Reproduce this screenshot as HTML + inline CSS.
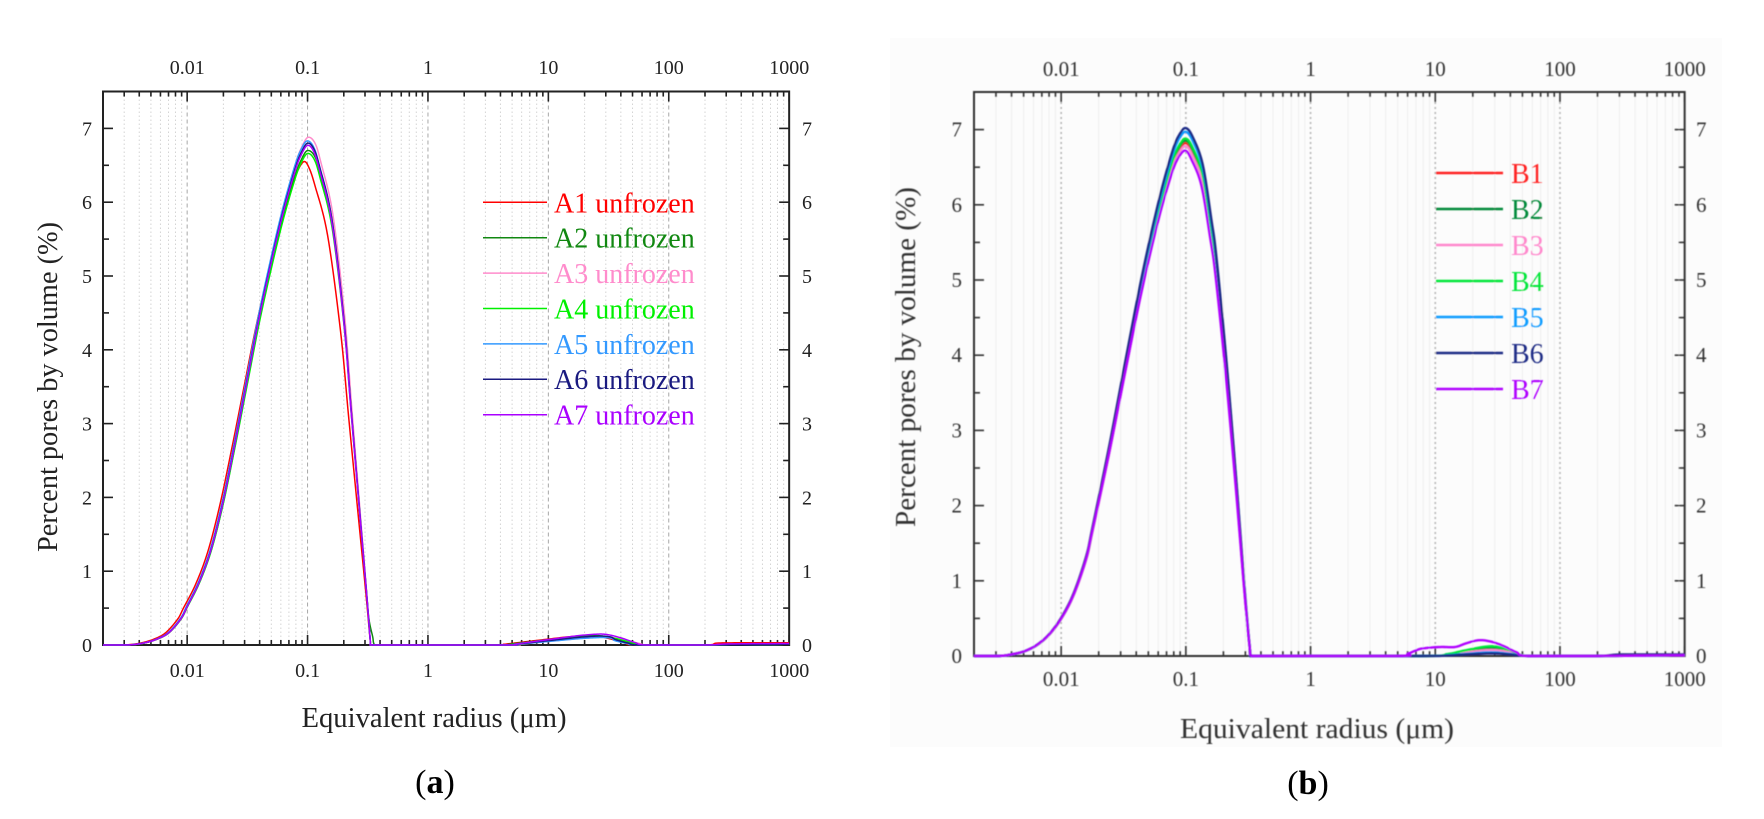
<!DOCTYPE html>
<html>
<head>
<meta charset="utf-8">
<style>
html,body{margin:0;padding:0;background:#fff;}
svg{display:block;}
text{font-family:"Liberation Serif","Times New Roman",serif;}
</style>
</head>
<body>
<svg id="s" xmlns="http://www.w3.org/2000/svg" width="1764" height="819" viewBox="0 0 1764 819">
<defs>
<filter id="bl" x="-5%" y="-5%" width="110%" height="110%"><feGaussianBlur stdDeviation="0.55"/></filter>
<clipPath id="ca"><rect x="103" y="85" width="687" height="565"/></clipPath>
<clipPath id="cb"><rect x="974" y="85" width="711" height="576"/></clipPath>
</defs>
<rect x="0" y="0" width="1764" height="819" fill="#fff"/>
<rect x="890" y="38" width="832" height="709" fill="#fcfcfc"/>
<g id="ga"></g>
<g id="gbw" filter="url(#bl)"><g id="gb"></g>
<g fill="#333" font-size="21">
<text x="1061.2" y="76" text-anchor="middle">0.01</text>
<text x="1185.9" y="76" text-anchor="middle">0.1</text>
<text x="1310.6" y="76" text-anchor="middle">1</text>
<text x="1435.3" y="76" text-anchor="middle">10</text>
<text x="1560" y="76" text-anchor="middle">100</text>
<text x="1684.7" y="76" text-anchor="middle">1000</text>
<text x="1061.2" y="686" text-anchor="middle">0.01</text>
<text x="1185.9" y="686" text-anchor="middle">0.1</text>
<text x="1310.6" y="686" text-anchor="middle">1</text>
<text x="1435.3" y="686" text-anchor="middle">10</text>
<text x="1560" y="686" text-anchor="middle">100</text>
<text x="1684.7" y="686" text-anchor="middle">1000</text>
<text x="962" y="663" text-anchor="end">0</text>
<text x="962" y="587.8" text-anchor="end">1</text>
<text x="962" y="512.6" text-anchor="end">2</text>
<text x="962" y="437.4" text-anchor="end">3</text>
<text x="962" y="362.2" text-anchor="end">4</text>
<text x="962" y="287" text-anchor="end">5</text>
<text x="962" y="211.8" text-anchor="end">6</text>
<text x="962" y="136.6" text-anchor="end">7</text>
<text x="1696" y="663">0</text>
<text x="1696" y="587.8">1</text>
<text x="1696" y="512.6">2</text>
<text x="1696" y="437.4">3</text>
<text x="1696" y="362.2">4</text>
<text x="1696" y="287">5</text>
<text x="1696" y="211.8">6</text>
<text x="1696" y="136.6">7</text>
</g>
<text x="1317" y="738" font-size="29" fill="#333" text-anchor="middle" textLength="274" lengthAdjust="spacingAndGlyphs">Equivalent radius (μm)</text>
<text transform="translate(915,357) rotate(-90)" font-size="29" fill="#333" text-anchor="middle" textLength="340" lengthAdjust="spacingAndGlyphs">Percent pores by volume (%)</text>
<g font-size="28">
<text x="1511" y="183" fill="#ff2020">B1</text>
<text x="1511" y="219" fill="#008a3a">B2</text>
<text x="1511" y="255" fill="#ff88cc">B3</text>
<text x="1511" y="291" fill="#00e63a">B4</text>
<text x="1511" y="327" fill="#0a9cff">B5</text>
<text x="1511" y="363" fill="#1e2c86">B6</text>
<text x="1511" y="399" fill="#b000ff">B7</text>
</g>
</g>
<g fill="#222" font-size="20">
<text x="187.2" y="74" text-anchor="middle">0.01</text>
<text x="307.6" y="74" text-anchor="middle">0.1</text>
<text x="428" y="74" text-anchor="middle">1</text>
<text x="548.4" y="74" text-anchor="middle">10</text>
<text x="668.8" y="74" text-anchor="middle">100</text>
<text x="789.2" y="74" text-anchor="middle">1000</text>
<text x="187.2" y="677" text-anchor="middle">0.01</text>
<text x="307.6" y="677" text-anchor="middle">0.1</text>
<text x="428" y="677" text-anchor="middle">1</text>
<text x="548.4" y="677" text-anchor="middle">10</text>
<text x="668.8" y="677" text-anchor="middle">100</text>
<text x="789.2" y="677" text-anchor="middle">1000</text>
<text x="92" y="652" text-anchor="end">0</text>
<text x="92" y="578.2" text-anchor="end">1</text>
<text x="92" y="504.4" text-anchor="end">2</text>
<text x="92" y="430.6" text-anchor="end">3</text>
<text x="92" y="356.8" text-anchor="end">4</text>
<text x="92" y="283" text-anchor="end">5</text>
<text x="92" y="209.2" text-anchor="end">6</text>
<text x="92" y="135.4" text-anchor="end">7</text>
<text x="802" y="652">0</text>
<text x="802" y="578.2">1</text>
<text x="802" y="504.4">2</text>
<text x="802" y="430.6">3</text>
<text x="802" y="356.8">4</text>
<text x="802" y="283">5</text>
<text x="802" y="209.2">6</text>
<text x="802" y="135.4">7</text>
</g>
<text x="434" y="727" font-size="28" fill="#222" text-anchor="middle" textLength="265" lengthAdjust="spacingAndGlyphs">Equivalent radius (μm)</text>
<text transform="translate(57,387) rotate(-90)" font-size="28" fill="#222" text-anchor="middle" textLength="330" lengthAdjust="spacingAndGlyphs">Percent pores by volume (%)</text>
<g font-size="28">
<text x="554" y="212.3" fill="#ff0000">A1 unfrozen</text>
<text x="554" y="247.7" fill="#118811">A2 unfrozen</text>
<text x="554" y="283" fill="#ff8ccc">A3 unfrozen</text>
<text x="554" y="318.4" fill="#00f000">A4 unfrozen</text>
<text x="554" y="353.8" fill="#3399ff">A5 unfrozen</text>
<text x="554" y="389.2" fill="#1a1a80">A6 unfrozen</text>
<text x="554" y="424.6" fill="#aa00ff">A7 unfrozen</text>
</g>
<text x="435" y="793" font-size="34" fill="#000" text-anchor="middle">(<tspan font-weight="bold">a</tspan>)</text>
<text x="1308" y="794" font-size="34" fill="#000" text-anchor="middle">(<tspan font-weight="bold">b</tspan>)</text>
</svg>
<script>
(function(){
var NS='http://www.w3.org/2000/svg';
var L0=Math.log10(0.002), LSPAN=3-L0;
function el(p,tag,a){var e=document.createElementNS(NS,tag);for(var k in a)e.setAttribute(k,a[k]);p.appendChild(e);return e;}
function crPath(c,pts){
  var P=pts.map(function(q){return [c.x0+(q[0]-L0)*c.dec, c.y0-q[1]*c.unit];});
  var out=[];
  for(var i=0;i<P.length-1;i++){
    var p0=P[i>0?i-1:i],p1=P[i],p2=P[i+1],p3=P[i+2<P.length?i+2:i+1];
    var n=10;
    for(var j=0;j<n;j++){
      var t=j/n,t2=t*t,t3=t2*t;
      var x=0.5*((2*p1[0])+(-p0[0]+p2[0])*t+(2*p0[0]-5*p1[0]+4*p2[0]-p3[0])*t2+(-p0[0]+3*p1[0]-3*p2[0]+p3[0])*t3);
      var y=0.5*((2*p1[1])+(-p0[1]+p2[1])*t+(2*p0[1]-5*p1[1]+4*p2[1]-p3[1])*t2+(-p0[1]+3*p1[1]-3*p2[1]+p3[1])*t3);
      if(y>c.y0)y=c.y0;
      out.push(x.toFixed(2)+','+y.toFixed(2));
    }
  }
  var last=P[P.length-1];out.push(last[0].toFixed(2)+','+Math.min(last[1],c.y0).toFixed(2));
  return 'M'+out.join('L');
}
function frame(c,g){
  var right=c.x0+LSPAN*c.dec, top=c.y0-7.5*c.unit;
  c.right=right;c.top=top;
  for(var n=-3;n<=2;n++)for(var k=1;k<=9;k++){
    var lr=Math.log10(k*Math.pow(10,n));
    if(lr<=L0+1e-6||lr>=3-1e-6)continue;
    var x=c.x0+(lr-L0)*c.dec;
    if(k==1){el(g,'line',{x1:x,y1:top,x2:x,y2:c.y0,stroke:c.mg,'stroke-width':c.mgw,'stroke-dasharray':c.mgd});}
    else{var a={x1:x,y1:top,x2:x,y2:c.y0,stroke:c.ng,'stroke-width':1};if(c.ngd)a['stroke-dasharray']=c.ngd;el(g,'line',a);}
  }
  el(g,'rect',{x:c.x0,y:top,width:right-c.x0,height:c.y0-top,fill:'none',stroke:c.ax,'stroke-width':2});
  for(var n=-3;n<=3;n++)for(var k=1;k<=9;k++){
    var lr=Math.log10(k*Math.pow(10,n));
    if(lr<=L0+1e-6||lr>3+1e-6)continue;
    var x=c.x0+(lr-L0)*c.dec, len=(k==1)?c.tM:c.tm;
    el(g,'line',{x1:x,y1:c.y0,x2:x,y2:c.y0-len,stroke:c.ax,'stroke-width':1.6});
    el(g,'line',{x1:x,y1:top,x2:x,y2:top+len,stroke:c.ax,'stroke-width':1.6});
  }
  for(var v=0.5;v<7.5;v+=0.5){
    var y=c.y0-v*c.unit, len=(Math.abs(v-Math.round(v))<1e-6)?c.tM:c.tmy;
    el(g,'line',{x1:c.x0,y1:y,x2:c.x0+len,y2:y,stroke:c.ax,'stroke-width':1.6});
    el(g,'line',{x1:right,y1:y,x2:right-len,y2:y,stroke:c.ax,'stroke-width':1.6});
  }
}
// ---------- Chart A ----------
var CA={x0:103,dec:120.4,y0:645,unit:73.8,ax:'#222',mg:'#a8a8a8',mgw:1,mgd:'4,3',ng:'#d4d4d4',ngd:'1.5,2.5',tM:10,tm:5,tmy:6};
var ga=document.getElementById('ga');
frame(CA,ga);
var BA=[[-2.699,0],[-2.55,0],[-2.45,0.005],[-2.35,0.03],[-2.25,0.08],[-2.15,0.17],[-2.05,0.36],[-2.0,0.52],[-1.9,0.85],[-1.8,1.3],[-1.7,1.95],[-1.6,2.75],[-1.5,3.6],[-1.4,4.45],[-1.3,5.2],[-1.2,5.88],[-1.1,6.45],[-1.05,6.66],[-1.0,6.78],[-0.95,6.7],[-0.9,6.44],[-0.8,5.75],[-0.7,4.4],[-0.64,3.2],[-0.57,1.85],[-0.51,0.7],[-0.48,0.08],[-0.47,0]];
var BBa=[[0.62,0],[0.7,0.01],[0.8,0.03],[0.9,0.05],[1.0,0.07],[1.1,0.09],[1.2,0.11],[1.3,0.125],[1.42,0.135],[1.5,0.12],[1.6,0.08],[1.7,0.03],[1.8,0]];
function mainA(p,sL,sR,greenTail){
  var src=BA.slice();
  if(greenTail){src=src.slice(0,src.length-2);src.push([-0.49,0.35],[-0.46,0.12],[-0.44,0]);}
  return src.map(function(q){var l=q[0],v=q[1];var lr=l+(l<=-1?sL:sR*(v/6.78));return [lr,v*p/6.78];});
}
function bumpA(s,sh,endSh){return BBa.map(function(q,i){var e=(i>=BBa.length-3&&endSh)?endSh:0;return [q[0]+sh+e,q[1]*s];});}
var SA=[
 {c:'#ff0000',pts:mainA(6.55,-0.03,-0.04).concat([[-0.35,0]],bumpA(0.95,-0.07),[[2.3,0],[2.4,0.025],[2.6,0.03],[3,0.03]])},
 {c:'#118811',pts:mainA(6.70,0,0.01,true).concat([[-0.35,0]],bumpA(0.95,-0.03),[[2.3,0],[3,0.01]])},
 {c:'#ff8ccc',pts:mainA(6.88,0.005,0.012).concat([[-0.35,0]],bumpA(0.8,0.05),[[2.3,0],[3,0.01]])},
 {c:'#00f000',pts:mainA(6.66,0,0.005).concat([[-0.35,0]],bumpA(0.9,0),[[2.3,0],[3,0.01]])},
 {c:'#3399ff',pts:mainA(6.83,-0.005,0).concat([[-0.35,0]],bumpA(0.75,0.03,-0.08),[[2.3,0],[3,0.01]])},
 {c:'#1a1a80',pts:mainA(6.80,0,0.003).concat([[-0.35,0]],bumpA(0.9,0.02,-0.06),[[2.3,0],[3,0.01]])},
 {c:'#aa00ff',pts:mainA(6.77,0,0).concat([[-0.35,0]],bumpA(1.1,0.02),[[2.3,0],[2.5,0.015],[3,0.02]])}
];
var gca=el(ga,'g',{'clip-path':'url(#ca)'});
SA.forEach(function(s){el(gca,'path',{d:crPath(CA,s.pts),fill:'none',stroke:s.c,'stroke-width':1.5,'stroke-linejoin':'round'});});
SA.forEach(function(s,i){var y=202.3+35.4*i;el(ga,'line',{x1:483,y1:y,x2:547,y2:y,stroke:s.c,'stroke-width':1.5});});

// ---------- Chart B ----------
var CB={x0:974,dec:124.7,y0:656,unit:75.2,ax:'#333',mg:'#b4b4b4',mgw:1.6,mgd:'2,3',ng:'#eeeeee',ngd:null,tM:10,tm:5,tmy:6};
var gb=document.getElementById('gb');
frame(CB,gb);
var BM=[[-2.699,0],[-2.5,0],[-2.4,0.02],[-2.3,0.06],[-2.2,0.14],[-2.1,0.28],[-2.0,0.5],[-1.9,0.82],[-1.8,1.3],[-1.749,1.68],[-1.615,2.74],[-1.481,3.89],[-1.348,5.0],[-1.214,5.97],[-1.107,6.6],[-1.05,6.82],[-1.0,6.9],[-0.95,6.78],[-0.87,6.42],[-0.8,5.7],[-0.76,5.22],[-0.68,3.89],[-0.6,2.34],[-0.53,0.88],[-0.49,0.15],[-0.47,0]];
function mainB(p,sL,sR){return BM.map(function(q){var l=q[0],v=q[1];return [l+(l<=-1?sL:sR*(v/6.9)),v*p/6.9];});}
function hump(h,c0){return [[0.9,0],[1.1,0.2*h],[1.25,0.6*h],[c0||1.45,h],[1.6,0.6*h],[1.75,0]];}
var SB=[
 {c:'#ff2020',pts:mainB(6.82,0,0.003).concat([[-0.35,0]],hump(0.11),[[2.3,0],[3,0.01]])},
 {c:'#008a3a',pts:mainB(6.85,0,0.003).concat([[-0.35,0]],hump(0.10),[[2.3,0],[3,0.01]])},
 {c:'#ff88cc',pts:mainB(6.78,0,0).concat([[-0.35,0]],hump(0.08),[[2.3,0],[3,0.01]])},
 {c:'#00e63a',pts:mainB(6.88,0,0.004).concat([[-0.35,0]],hump(0.13),[[2.3,0],[3,0.01]])},
 {c:'#0a9cff',pts:mainB(6.97,0,0.006).concat([[-0.35,0]],hump(0.05),[[2.3,0],[3,0.01]])},
 {c:'#1e2c86',pts:mainB(7.02,0,0.006).concat([[-0.35,0]],hump(0.035),[[2.3,0],[2.5,0.02],[3,0.02]])},
 {c:'#b000ff',pts:mainB(6.72,-0.004,-0.005).concat([[-0.35,0],[0.7,0],[0.78,0.03],[0.87,0.09],[0.95,0.11],[1.05,0.12],[1.16,0.12],[1.25,0.17],[1.35,0.21],[1.45,0.19],[1.55,0.13],[1.65,0.05],[1.75,0],[2.3,0],[3,0.01]])}
];
var gcb=el(gb,'g',{'clip-path':'url(#cb)'});
SB.forEach(function(s){el(gcb,'path',{d:crPath(CB,s.pts),fill:'none',stroke:s.c,'stroke-width':2.4,'stroke-linejoin':'round'});});
SB.forEach(function(s,i){var y=173+36*i;el(gb,'line',{x1:1436,y1:y,x2:1503,y2:y,stroke:s.c,'stroke-width':2.6});});
})();
</script>
</body>
</html>
